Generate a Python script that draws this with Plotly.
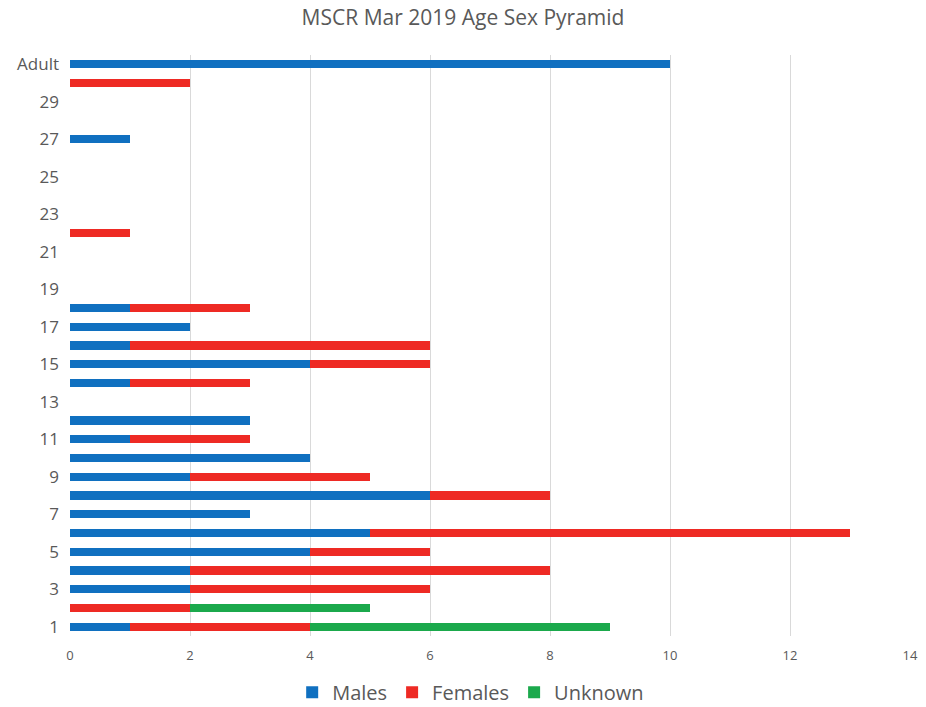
import plotly.graph_objects as go

categories = [str(i) for i in range(1, 31)] + ["Adult"]
males = [1, 0, 2, 2, 4, 5, 3, 6, 2, 4, 1, 3, 0, 1, 4, 1, 2, 1, 0, 0, 0, 0, 0, 0, 0, 0, 1, 0, 0, 0, 10]
females = [3, 2, 4, 6, 2, 8, 0, 2, 3, 0, 2, 0, 0, 2, 2, 5, 0, 2, 0, 0, 0, 1, 0, 0, 0, 0, 0, 0, 0, 2, 0]
unknown = [5, 3, 0, 0, 0, 0, 0, 0, 0, 0, 0, 0, 0, 0, 0, 0, 0, 0, 0, 0, 0, 0, 0, 0, 0, 0, 0, 0, 0, 0, 0]
y_ticks = [str(i) for i in range(1, 30, 2)] + ["Adult"]
x_ticks = [0, 2, 4, 6, 8, 10, 12, 14]

fig = go.Figure()
for name, vals, col in [("Males", males, "#1070C0"),
                        ("Females", females, "#EE2A24"),
                        ("Unknown", unknown, "#1BA94C")]:
    fig.add_trace(go.Bar(y=categories, x=vals, name=name, orientation="h",
                         marker=dict(color=col, line=dict(width=0))))

fig.update_layout(
    barmode="stack",
    bargap=0.56,
    width=926, height=707,
    margin=dict(l=70, r=16, t=55, b=71, autoexpand=False),
    paper_bgcolor="white", plot_bgcolor="white",
    font=dict(family="Open Sans, Noto Sans, sans-serif", color="#595959"),
    title=dict(text="MSCR Mar 2019 Age Sex Pyramid", x=0.5, xanchor="center",
               y=0.975, yanchor="middle", font=dict(size=21, color="#595959")),
    legend=dict(orientation="h", x=0.477, xanchor="center",
                yref="container", y=0.021, yanchor="middle",
                font=dict(size=20, color="#595959"), traceorder="normal",
                itemwidth=30),
    xaxis=dict(range=[0, 14], tickvals=x_ticks, showgrid=True, gridcolor="#D9D9D9",
               gridwidth=1, zeroline=False, showline=False, ticks="",
               ticklabelstandoff=10,
               tickfont=dict(size=13, color="#595959")),
    yaxis=dict(type="category", categoryorder="array", categoryarray=categories,
               tickvals=y_ticks, showgrid=False, zeroline=False, showline=False,
               ticks="", ticklabelstandoff=10,
               tickfont=dict(size=17, color="#595959")),
)
fig.write_html("out.html")
